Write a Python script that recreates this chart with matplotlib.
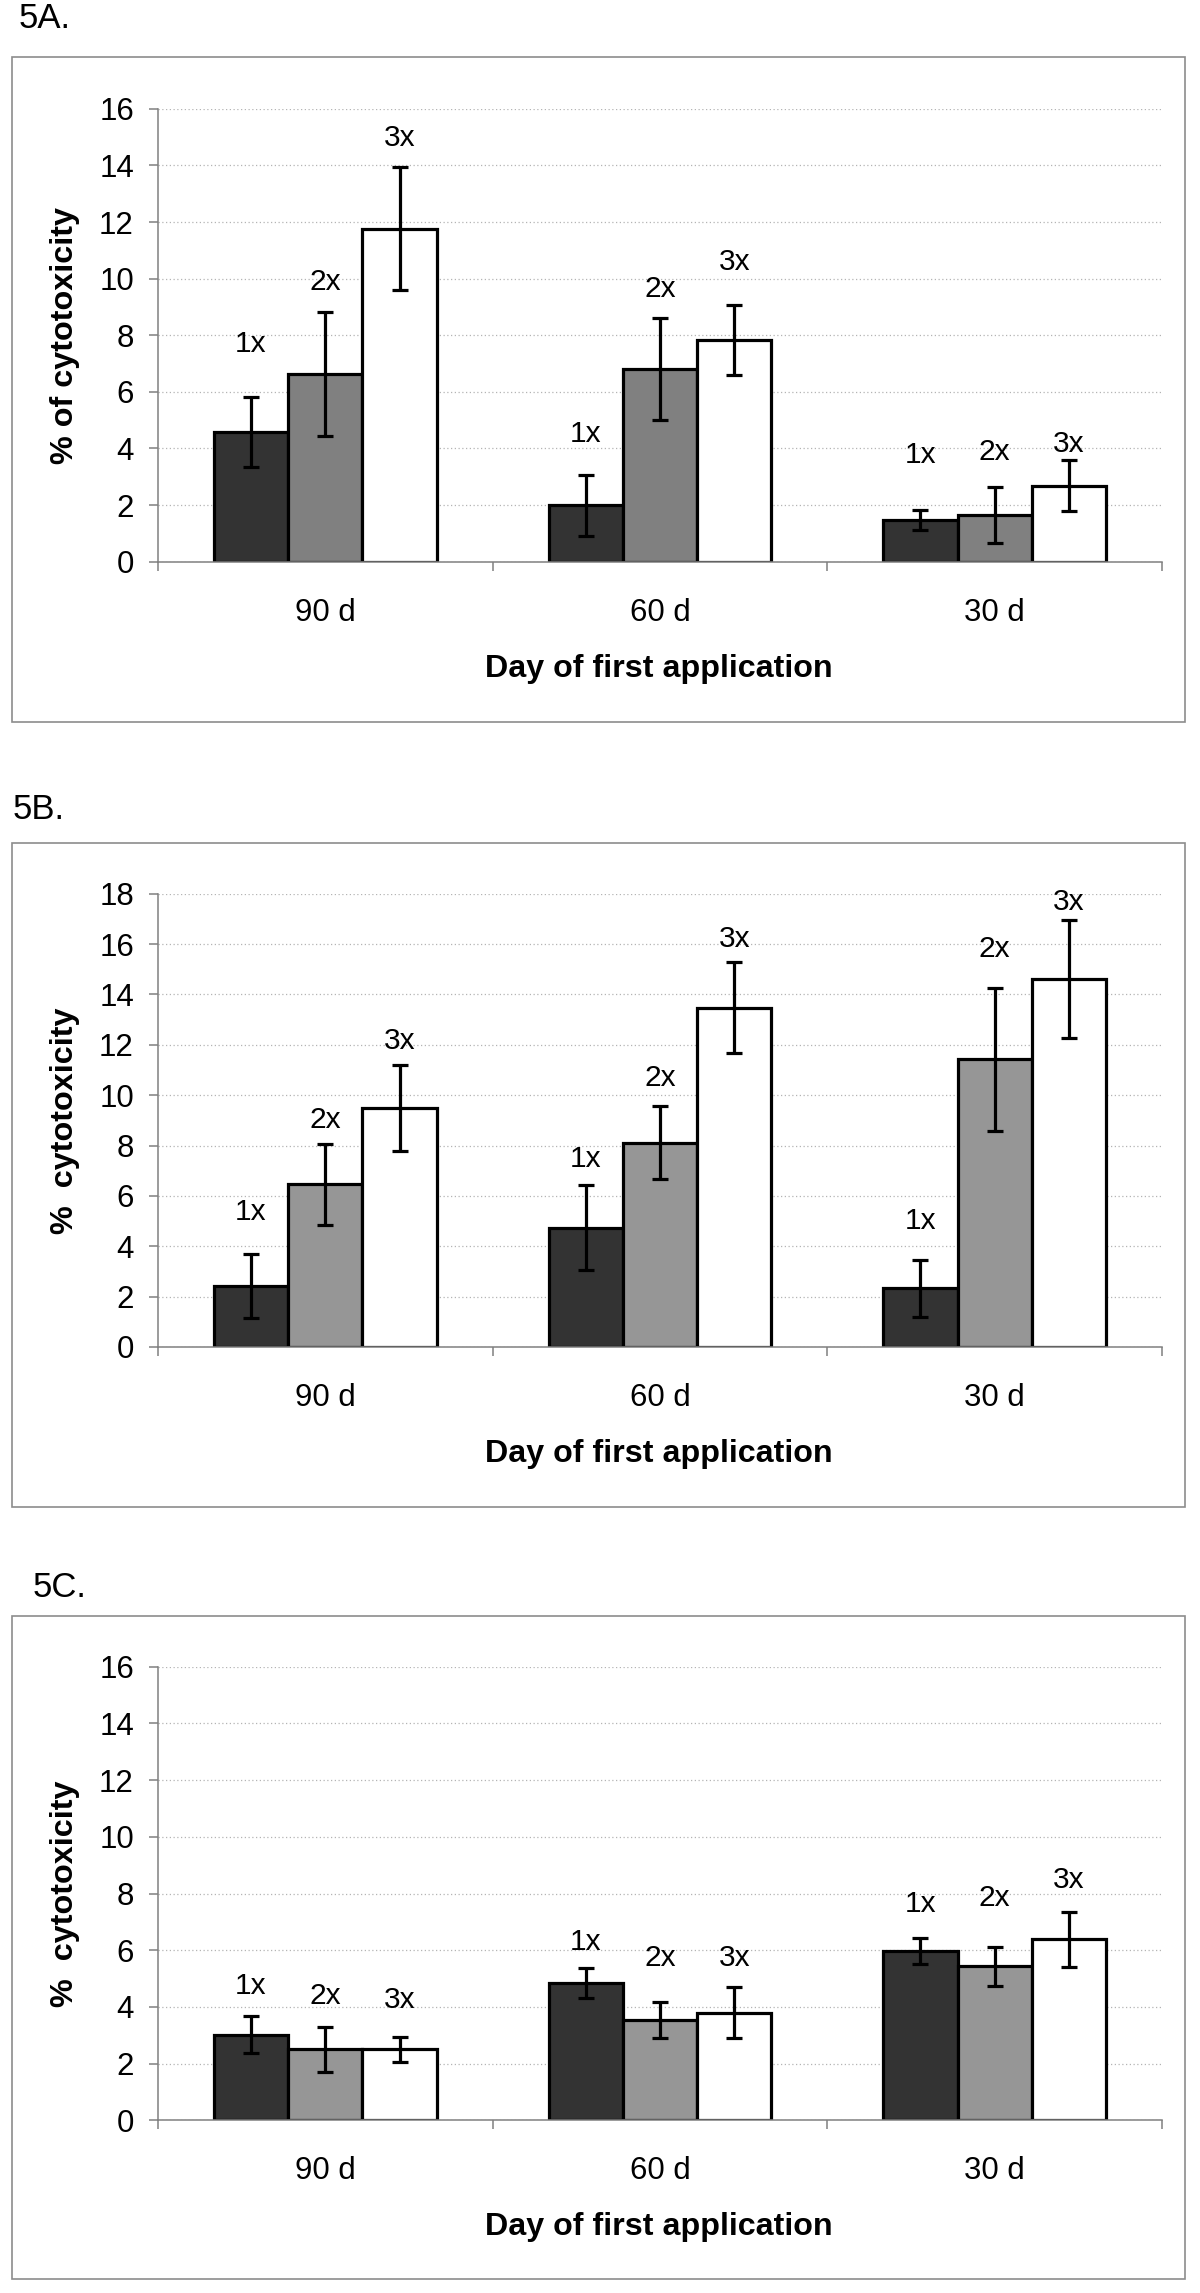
import numpy as np
import matplotlib
matplotlib.use("Agg")
import matplotlib.pyplot as plt
from matplotlib.patches import Rectangle

plt.rcParams['font.family'] = ['Liberation Sans', 'DejaVu Sans']

days = ["90 d", "60 d", "30 d"]
doses = ["1x", "2x", "3x"]
colors_a = ["#333333", "#808080", "#ffffff"]
colors_bc = ["#333333", "#969696", "#ffffff"]

# panel 5A: mean and error per dose, in order 90 d, 60 d, 30 d
a_1x = [4.57, 1.99, 1.48]
a_2x = [6.63, 6.81, 1.66]
a_3x = [11.77, 7.83, 2.68]
a_err_1x = [1.24, 1.08, 0.35]
a_err_2x = [2.20, 1.80, 0.99]
a_err_3x = [2.16, 1.24, 0.90]
a_lab_1x = [7.80, 4.63, 3.86]
a_lab_2x = [10.00, 9.72, 3.97]
a_lab_3x = [15.06, 10.70, 4.25]

# panel 5B
b_1x = [2.41, 4.74, 2.33]
b_2x = [6.47, 8.12, 11.42]
b_3x = [9.50, 13.47, 14.61]
b_err_1x = [1.27, 1.70, 1.12]
b_err_2x = [1.61, 1.43, 2.83]
b_err_3x = [1.70, 1.80, 2.33]
b_lab_1x = [5.49, 7.58, 5.10]
b_lab_2x = [9.12, 10.78, 15.93]
b_lab_3x = [12.26, 16.32, 17.77]

# panel 5C
c_1x = [3.02, 4.84, 5.97]
c_2x = [2.50, 3.54, 5.44]
c_3x = [2.50, 3.80, 6.38]
c_err_1x = [0.65, 0.52, 0.47]
c_err_2x = [0.78, 0.62, 0.69]
c_err_3x = [0.43, 0.90, 0.98]
c_lab_1x = [4.83, 6.38, 7.74]
c_lab_2x = [4.50, 5.83, 7.93]
c_lab_3x = [4.35, 5.83, 8.56]

W, H = 1200, 2293
fig = plt.figure(figsize=(W / 100, H / 100), dpi=100)


def px(x, y):
    return x / W, 1 - y / H


def panel(title, title_xy, frame_y, ax_y, ymax, ylabel, series, errs, labs, colors):
    # outer frame
    x0, y0 = px(12.3, frame_y[1])
    fig.patches.append(Rectangle((x0, y0), (1185 - 12.3) / W, (frame_y[1] - frame_y[0]) / H,
                                 transform=fig.transFigure, fill=False,
                                 edgecolor="#8c8c8c", linewidth=1.2))
    tx, ty = px(*title_xy)
    fig.text(tx, ty, title, fontsize=25, va="baseline", ha="left")

    top, zero = ax_y
    ax = fig.add_axes([158 / W, 1 - zero / H, (1162 - 158) / W, (zero - top) / H])
    w = 0.222
    x = np.arange(len(days))
    for i in range(3):
        xi = x + (i - 1) * w
        ax.bar(xi, series[i], width=w, color=colors[i], edgecolor="black",
               linewidth=2.3, zorder=2)
        ax.errorbar(xi, series[i], yerr=errs[i], fmt="none", ecolor="black",
                    elinewidth=2.3, capsize=6, capthick=2.3, zorder=3)
        for xx, yy in zip(xi, labs[i]):
            ax.annotate(doses[i], (xx, yy), xytext=(0, -7.8), textcoords="offset points",
                        ha="center", va="baseline", fontsize=21.5)

    ax.set_xlim(-0.5, 2.5)
    ax.set_ylim(0, ymax)
    ax.set_yticks(np.arange(0, ymax + 1, 2))
    ax.set_xticks(x)
    ax.set_xticklabels(days)
    ax.set_xticks([-0.5, 0.5, 1.5, 2.5], minor=True)
    ax.tick_params(axis="x", which="major", length=0, pad=26, labelsize=22.5)
    ax.tick_params(axis="x", which="minor", length=6.5, width=1.1, color="#808080")
    ax.tick_params(axis="y", length=6.5, width=1.1, color="#808080", pad=10.8, labelsize=22.5)
    for s in ["top", "right"]:
        ax.spines[s].set_visible(False)
    for s in ["left", "bottom"]:
        ax.spines[s].set_color("#808080")
        ax.spines[s].set_linewidth(1.1)
    ax.yaxis.grid(True, linestyle=(0, (1, 2)), color="#b4b4b4", linewidth=0.9)
    ax.set_axisbelow(True)

    lx, ly = px(65, (top + zero) / 2)
    fig.text(lx, ly, ylabel, rotation=90, fontsize=23.3, fontweight="bold",
             ha="center", va="center")
    bx, by = px(659, zero + 115)
    fig.text(bx, by, "Day of first application", fontsize=23.2, fontweight="bold",
             ha="center", va="baseline")
    return ax


panel("5A.", (19, 28), (57.3, 722.3), (108.9, 561.7), 16, "% of cytotoxicity",
      [a_1x, a_2x, a_3x], [a_err_1x, a_err_2x, a_err_3x],
      [a_lab_1x, a_lab_2x, a_lab_3x], colors_a)
panel("5B.", (13, 819), (842.7, 1507.3), (893.7, 1347.0), 18, "%  cytotoxicity",
      [b_1x, b_2x, b_3x], [b_err_1x, b_err_2x, b_err_3x],
      [b_lab_1x, b_lab_2x, b_lab_3x], colors_bc)
panel("5C.", (33, 1597), (1616.0, 2279.3), (1666.7, 2120.3), 16, "%  cytotoxicity",
      [c_1x, c_2x, c_3x], [c_err_1x, c_err_2x, c_err_3x],
      [c_lab_1x, c_lab_2x, c_lab_3x], colors_bc)

fig.savefig("out.png", dpi=100)
